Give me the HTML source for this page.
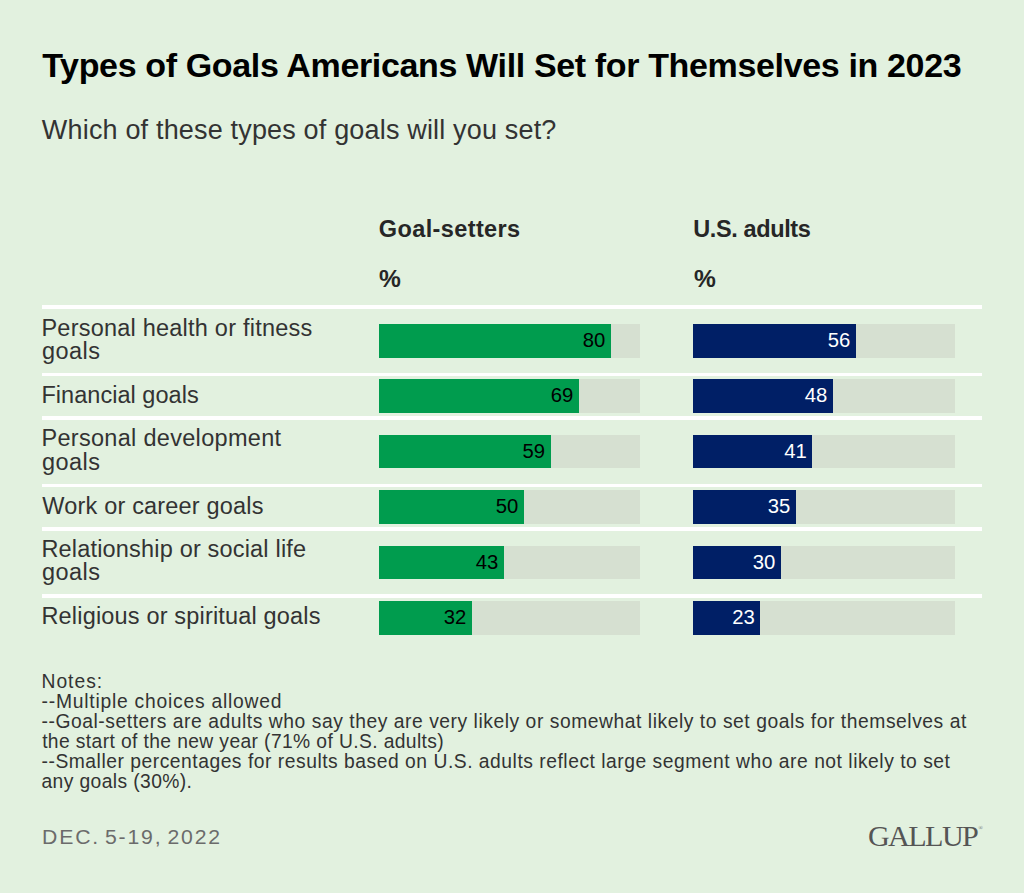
<!DOCTYPE html>
<html><head><meta charset="utf-8">
<title>Types of Goals Americans Will Set for Themselves in 2023</title>
<style>
html,body{margin:0;padding:0;}
body{width:1024px;height:893px;background:#e2f1df;position:relative;overflow:hidden;font-family:"Liberation Sans",Arial,sans-serif;color:#333;}
.t{position:absolute;white-space:nowrap;line-height:1;}
.dv{position:absolute;left:41.8px;width:940.2px;height:3.5px;background:#fff;}
.trk{position:absolute;height:33.6px;background:#d6e0d1;}
.bar{position:absolute;height:33.6px;}
.g{background:#009c4e;left:379px;}
.n{background:#001f66;left:693.1px;}
</style></head><body>
<div class="t" id="title" style="left:42.23px;top:48.11px;font-size:34px;letter-spacing:-0.353px;font-weight:bold;color:#000;">Types of Goals Americans Will Set for Themselves in 2023</div>
<div class="t" id="sub" style="left:41.87px;top:117.11px;font-size:27px;letter-spacing:0.173px;">Which of these types of goals will you set?</div>
<div class="t" id="h1" style="left:378.79px;top:217.91px;font-size:23.5px;letter-spacing:0.386px;font-weight:bold;color:#262626;">Goal-setters</div>
<div class="t" id="h2" style="left:693.23px;top:217.91px;font-size:23.5px;letter-spacing:-0.386px;font-weight:bold;color:#262626;">U.S. adults</div>
<div class="t" id="p1" style="left:379.20px;top:268.01px;font-size:23.2px;letter-spacing:0.000px;font-weight:bold;transform:scaleX(1.06);transform-origin:0 0;color:#262626;">%</div>
<div class="t" id="p2" style="left:694.10px;top:268.01px;font-size:23.2px;letter-spacing:0.000px;font-weight:bold;transform:scaleX(1.06);transform-origin:0 0;color:#262626;">%</div>
<div class="t" id="l1a" style="left:41.47px;top:316.60px;font-size:23.5px;letter-spacing:0.222px;">Personal health or fitness</div>
<div class="t" id="l1b" style="left:41.93px;top:339.91px;font-size:23.5px;letter-spacing:0.490px;">goals</div>
<div class="t" id="l2" style="left:41.47px;top:384.00px;font-size:23.5px;letter-spacing:0.029px;">Financial goals</div>
<div class="t" id="l3a" style="left:41.47px;top:427.32px;font-size:23.5px;letter-spacing:0.301px;">Personal development</div>
<div class="t" id="l3b" style="left:41.93px;top:450.71px;font-size:23.5px;letter-spacing:0.490px;">goals</div>
<div class="t" id="l4" style="left:42.35px;top:494.50px;font-size:23.5px;letter-spacing:0.181px;">Work or career goals</div>
<div class="t" id="l5a" style="left:41.47px;top:538.00px;font-size:23.5px;letter-spacing:0.179px;">Relationship or social life</div>
<div class="t" id="l5b" style="left:41.93px;top:561.41px;font-size:23.5px;letter-spacing:0.490px;">goals</div>
<div class="t" id="l6" style="left:41.47px;top:605.20px;font-size:23.5px;letter-spacing:0.174px;">Religious or spiritual goals</div>
<div class="t" id="n1" style="left:41.47px;top:672.10px;font-size:19.3px;letter-spacing:0.998px;">Notes:</div>
<div class="t" id="n2" style="left:41.52px;top:692.21px;font-size:19.3px;letter-spacing:0.770px;">--Multiple choices allowed</div>
<div class="t" id="n3" style="left:41.52px;top:712.31px;font-size:19.3px;letter-spacing:0.541px;">--Goal-setters are adults who say they are very likely or somewhat likely to set goals for themselves at</div>
<div class="t" id="n4" style="left:42.14px;top:732.40px;font-size:19.3px;letter-spacing:0.376px;">the start of the new year (71% of U.S. adults)</div>
<div class="t" id="n5" style="left:41.52px;top:752.31px;font-size:19.3px;letter-spacing:0.516px;">--Smaller percentages for results based on U.S. adults reflect large segment who are not likely to set</div>
<div class="t" id="n6" style="left:41.52px;top:772.31px;font-size:19.3px;letter-spacing:0.381px;">any goals (30%).</div>
<div class="t" id="date" style="left:42.00px;top:828.31px;font-size:19.3px;letter-spacing:1.665px;word-spacing:-2.5px;transform:scaleX(1.1);transform-origin:0 0;color:#6b6b6b;">DEC. 5-19, 2022</div>
<div class="t" id="logo" style="left:867.94px;top:820.91px;font-size:30.2px;letter-spacing:-1.628px;font-family:'Liberation Serif',serif;color:#555;">GALLUP</div>
<div class="t" id="reg" style="left:978.60px;top:826.01px;font-size:5.6px;letter-spacing:0.000px;font-family:'Liberation Serif',serif;color:#666;">&reg;</div>
<div class="dv" style="top:305.4px"></div>
<div class="dv" style="top:372.6px"></div>
<div class="dv" style="top:416.1px"></div>
<div class="dv" style="top:483.6px"></div>
<div class="dv" style="top:527.1px"></div>
<div class="dv" style="top:594.3px"></div>
<div class="trk" style="left:379px;top:324px;width:260.5px"></div>
<div class="trk" style="left:693.1px;top:324px;width:262px"></div>
<div class="bar g" style="top:324px;width:232.0px"></div>
<div class="bar n" style="top:324px;width:162.9px"></div>
<div class="t" id="vg0" style="right:418.60px;top:330.12px;font-size:20.3px;letter-spacing:0px;color:#000">80</div>
<div class="t" id="vn0" style="right:173.60px;top:330.12px;font-size:20.3px;letter-spacing:0px;color:#fff">56</div>
<div class="trk" style="left:379px;top:379.2px;width:260.5px"></div>
<div class="trk" style="left:693.1px;top:379.2px;width:262px"></div>
<div class="bar g" style="top:379.2px;width:200.0px"></div>
<div class="bar n" style="top:379.2px;width:139.7px"></div>
<div class="t" id="vg1" style="right:450.60px;top:385.32px;font-size:20.3px;letter-spacing:0px;color:#000">69</div>
<div class="t" id="vn1" style="right:196.80px;top:385.32px;font-size:20.3px;letter-spacing:0px;color:#fff">48</div>
<div class="trk" style="left:379px;top:434.8px;width:260.5px"></div>
<div class="trk" style="left:693.1px;top:434.8px;width:262px"></div>
<div class="bar g" style="top:434.8px;width:171.6px"></div>
<div class="bar n" style="top:434.8px;width:119.4px"></div>
<div class="t" id="vg2" style="right:479.00px;top:440.92px;font-size:20.3px;letter-spacing:0px;color:#000">59</div>
<div class="t" id="vn2" style="right:217.10px;top:440.92px;font-size:20.3px;letter-spacing:0px;color:#fff">41</div>
<div class="trk" style="left:379px;top:490.2px;width:260.5px"></div>
<div class="trk" style="left:693.1px;top:490.2px;width:262px"></div>
<div class="bar g" style="top:490.2px;width:145.0px"></div>
<div class="bar n" style="top:490.2px;width:102.8px"></div>
<div class="t" id="vg3" style="right:505.60px;top:496.32px;font-size:20.3px;letter-spacing:0px;color:#000">50</div>
<div class="t" id="vn3" style="right:233.70px;top:496.32px;font-size:20.3px;letter-spacing:0px;color:#fff">35</div>
<div class="trk" style="left:379px;top:545.6px;width:260.5px"></div>
<div class="trk" style="left:693.1px;top:545.6px;width:262px"></div>
<div class="bar g" style="top:545.6px;width:124.9px"></div>
<div class="bar n" style="top:545.6px;width:87.7px"></div>
<div class="t" id="vg4" style="right:525.70px;top:551.72px;font-size:20.3px;letter-spacing:0px;color:#000">43</div>
<div class="t" id="vn4" style="right:248.80px;top:551.72px;font-size:20.3px;letter-spacing:0px;color:#fff">30</div>
<div class="trk" style="left:379px;top:601.0px;width:260.5px"></div>
<div class="trk" style="left:693.1px;top:601.0px;width:262px"></div>
<div class="bar g" style="top:601.0px;width:92.8px"></div>
<div class="bar n" style="top:601.0px;width:67.4px"></div>
<div class="t" id="vg5" style="right:557.80px;top:607.12px;font-size:20.3px;letter-spacing:0px;color:#000">32</div>
<div class="t" id="vn5" style="right:269.10px;top:607.12px;font-size:20.3px;letter-spacing:0px;color:#fff">23</div>
</body></html>
